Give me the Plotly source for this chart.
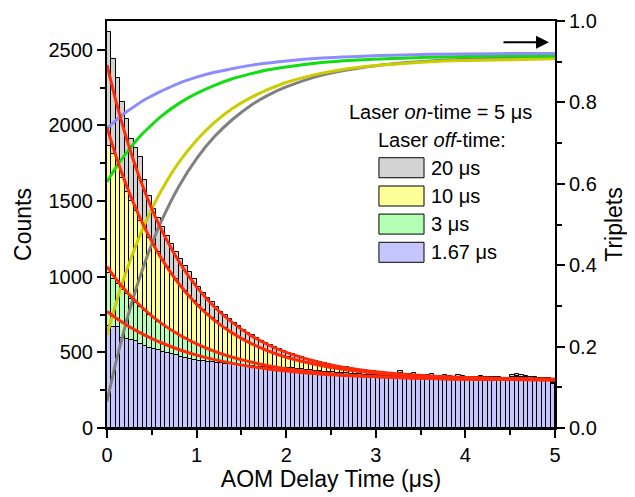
import numpy as np
import plotly.graph_objects as go

# ---------------- data ----------------
BIN_WIDTH = 0.05
N_BINS = 100
bin_centers = np.arange(N_BINS) * BIN_WIDTH + BIN_WIDTH / 2

series_names = ["20 \u03bcs", "10 \u03bcs", "3 \u03bcs", "1.67 \u03bcs"]

counts_20us = [
    2618, 2442, 2310, 2155, 2040, 1907, 1852, 1790, 1638, 1532,
    1450, 1390, 1330, 1268, 1215, 1165, 1120, 1070, 1030, 985,
    935, 895, 860, 830, 800, 770, 745, 720, 695, 672,
    650, 630, 612, 595, 578, 562, 548, 535, 520, 508,
    498, 486, 476, 468, 458, 450, 442, 436, 428, 422,
    416, 410, 405, 400, 396, 391, 386, 383, 379, 375,
    372, 368, 366, 362, 360, 374, 357, 355, 362, 352,
    350, 348, 354, 346, 344, 350, 342, 340, 348, 341,
    340, 338, 336, 342, 338, 334, 336, 338, 333, 331,
    352, 356, 350, 345, 338, 336, 332, 330, 328, 305,
]
counts_10us = [
    1861, 1808, 1740, 1655, 1560, 1500, 1435, 1370, 1310, 1255,
    1215, 1160, 1110, 1065, 1020, 985, 940, 905, 870, 840,
    810, 778, 755, 725, 705, 680, 660, 640, 622, 602,
    588, 570, 556, 542, 530, 516, 505, 494, 484, 475,
    466, 455, 450, 440, 434, 428, 420, 415, 410, 405,
    400, 394, 390, 386, 382, 378, 374, 372, 368, 365,
    362, 360, 357, 355, 353, 362, 349, 347, 352, 344,
    343, 341, 346, 338, 337, 340, 335, 334, 340, 333,
    332, 331, 330, 336, 330, 328, 329, 331, 327, 326,
    340, 345, 338, 335, 327, 330, 325, 324, 322, 300,
]
counts_3us = [
    1026, 985, 950, 915, 885, 855, 825, 798, 772, 748,
    725, 702, 682, 662, 642, 625, 608, 592, 576, 562,
    548, 535, 524, 512, 502, 491, 481, 472, 463, 455,
    448, 440, 434, 427, 421, 415, 409, 404, 399, 395,
    398, 394, 390, 387, 384, 381, 378, 375, 372, 370,
    368, 365, 363, 361, 359, 357, 355, 353, 351, 350,
    348, 347, 345, 344, 343, 348, 341, 340, 342, 338,
    337, 336, 339, 335, 334, 336, 333, 332, 336, 331,
    331, 330, 329, 333, 329, 328, 328, 330, 327, 326,
    334, 338, 332, 330, 327, 327, 325, 324, 323, 296,
]
counts_167us = [
    671, 670, 668, 598, 585, 582, 572, 552, 542, 530,
    524, 516, 505, 497, 489, 480, 472, 465, 457, 450,
    445, 440, 436, 433, 430, 428, 426, 424, 421, 418,
    414, 411, 408, 405, 402, 400, 398, 396, 394, 392,
    390, 386, 383, 379, 376, 373, 370, 367, 364, 362,
    360, 357, 355, 353, 351, 349, 347, 345, 344, 342,
    341, 339, 338, 337, 335, 334, 333, 332, 331, 330,
    329, 328, 327, 327, 326, 325, 325, 324, 324, 323,
    323, 322, 322, 321, 321, 321, 320, 320, 320, 319,
    319, 319, 318, 318, 318, 318, 317, 317, 317, 290,
]

# fitted decay curves (counts) sampled at these times
fit_t = [0, 0.1, 0.2, 0.3, 0.4, 0.5, 0.6, 0.8, 1.0, 1.2, 1.4, 1.6, 1.8,
         2.0, 2.4, 2.8, 3.2, 3.6, 4.0, 4.5, 5.0]
fit_20us = [2400, 2161, 1949, 1762, 1596, 1449, 1319, 1103, 933, 800, 696,
            614, 550, 500, 430, 386, 360, 344, 334, 327, 323]
fit_10us = [1987, 1798, 1630, 1481, 1349, 1232, 1128, 955, 818, 711, 627,
            561, 509, 468, 411, 375, 353, 340, 332, 325, 322]
fit_3us = [1066, 985, 913, 849, 792, 741, 695, 618, 556, 507, 468,
           437, 412, 392, 364, 346, 335, 328, 323, 320, 318]
fit_167us = [770, 727, 688, 652, 620, 591, 565, 519, 482, 452, 427,
             407, 390, 377, 356, 343, 334, 327, 323, 320, 318]

# triplet population curves (right axis)
trip_t = fit_t
trip_20us = [0.065, 0.162, 0.248, 0.325, 0.392, 0.452, 0.505, 0.593, 0.662,
             0.716, 0.758, 0.792, 0.818, 0.838, 0.867, 0.884, 0.895, 0.902,
             0.906, 0.909, 0.910]
trip_10us = [0.228, 0.306, 0.375, 0.436, 0.490, 0.538, 0.581, 0.652, 0.707,
             0.751, 0.785, 0.811, 0.832, 0.849, 0.872, 0.886, 0.894, 0.900,
             0.903, 0.905, 0.907]
trip_3us = [0.605, 0.640, 0.671, 0.699, 0.724, 0.745, 0.765, 0.797, 0.822,
            0.842, 0.858, 0.870, 0.880, 0.887, 0.898, 0.904, 0.908, 0.911,
            0.913, 0.914, 0.914]
trip_167us = [0.736, 0.756, 0.774, 0.789, 0.804, 0.816, 0.827, 0.847, 0.862,
              0.874, 0.883, 0.891, 0.897, 0.902, 0.909, 0.913, 0.916, 0.918,
              0.919, 0.920, 0.920]

# ---------------- styles ----------------
FONT = "Arial, Liberation Sans, sans-serif"
bar_colors = ["#D3D3D3", "#FFFF99", "#B3FFB3", "#C6C6FF"]
trip_colors = ["#808080", "#CCCC00", "#11DD11", "#8C8CFF"]
FIT_COLOR = "#FF2A0A"

fig = go.Figure()

for name, vals, col in zip(series_names,
                           [counts_20us, counts_10us, counts_3us, counts_167us],
                           bar_colors):
    fig.add_trace(go.Bar(
        x=bin_centers, y=vals, width=BIN_WIDTH, name=name,
        marker=dict(color=col, line=dict(color="black", width=1)),
        showlegend=False, yaxis="y"))

for vals, col in zip([trip_20us, trip_10us, trip_3us, trip_167us], trip_colors):
    fig.add_trace(go.Scatter(
        x=trip_t, y=vals, mode="lines", line=dict(color=col, width=3, shape="spline"),
        showlegend=False, yaxis="y2"))

for vals in [fit_20us, fit_10us, fit_3us, fit_167us]:
    fig.add_trace(go.Scatter(
        x=fit_t, y=vals, mode="lines", line=dict(color=FIT_COLOR, width=3, shape="spline"),
        showlegend=False, yaxis="y3"))

YMAX = 2690
tickfont = dict(family=FONT, size=20, color="black")
titlefont = dict(family=FONT, size=23, color="black")

# the page body adds an 8 px offset, so the figure is 8 px smaller each way
fig.update_layout(
    width=627, height=489,
    margin=dict(l=99, r=80, t=13, b=69, autoexpand=False),
    paper_bgcolor="white", plot_bgcolor="white",
    barmode="overlay", bargap=0,
    font=dict(family=FONT, color="black"),
    xaxis=dict(
        range=[0, 5], dtick=1, tick0=0, showgrid=False, zeroline=False,
        automargin=False,
        showline=True, linecolor="black", linewidth=2, mirror=True,
        ticks="outside", ticklen=8, tickwidth=2, tickcolor="black",
        minor=dict(dtick=0.5, ticks="outside", ticklen=5, tickwidth=1.5, tickcolor="black"),
        tickfont=tickfont,
        title=dict(text="AOM Delay Time (\u03bcs)", font=titlefont, standoff=6),
    ),
    yaxis=dict(
        range=[0, YMAX], dtick=500, tick0=0, showgrid=False, zeroline=False,
        automargin=False,
        showline=True, linecolor="black", linewidth=2,
        ticks="outside", ticklen=8, tickwidth=2, tickcolor="black",
        minor=dict(dtick=250, ticks="outside", ticklen=5, tickwidth=1.5, tickcolor="black"),
        tickfont=tickfont,
        title=dict(text="Counts", font=titlefont, standoff=10),
    ),
    yaxis2=dict(
        range=[0, 1.0], dtick=0.2, tick0=0, tickformat=".1f", overlaying="y",
        side="right", anchor="x", showgrid=False, zeroline=False,
        automargin=False,
        showline=True, linecolor="black", linewidth=2,
        ticks="outside", ticklen=8, tickwidth=2, tickcolor="black",
        minor=dict(dtick=0.1, ticks="outside", ticklen=5, tickwidth=1.5, tickcolor="black"),
        tickfont=tickfont,
        title=dict(text="Triplets", font=titlefont, standoff=10),
    ),
    yaxis3=dict(range=[0, YMAX], overlaying="y", visible=False),
)

# legend drawn as boxes + labels (paper coords within plot area)
legend_rows_y = [0.6395, 0.570, 0.501, 0.4317]
for yc, col, name in zip(legend_rows_y, bar_colors, series_names):
    fig.add_shape(type="rect", xref="paper", yref="paper",
                  x0=0.607, x1=0.7076, y0=yc - 0.0246, y1=yc + 0.0246,
                  fillcolor=col, line=dict(color="black", width=1))
    fig.add_annotation(xref="paper", yref="paper", x=0.718, y=yc, text=name,
                       showarrow=False, xanchor="left", yanchor="middle",
                       font=dict(family=FONT, size=20, color="black"))

fig.add_annotation(xref="paper", yref="paper", x=0.745, y=0.777,
                   text="Laser <i>on</i>-time = 5 \u03bcs", showarrow=False,
                   xanchor="center", yanchor="middle",
                   font=dict(family=FONT, size=20, color="black"))
fig.add_annotation(xref="paper", yref="paper", x=0.747, y=0.7076,
                   text="Laser <i>off</i>-time:", showarrow=False,
                   xanchor="center", yanchor="middle",
                   font=dict(family=FONT, size=20, color="black"))

# arrow pointing to the right axis
fig.add_annotation(xref="paper", yref="paper", x=0.9866, y=0.9477,
                   ax=-47, ay=0, text="", showarrow=True,
                   arrowhead=2, arrowsize=1.3, arrowwidth=2, arrowcolor="black")

fig.write_html("out.html")
